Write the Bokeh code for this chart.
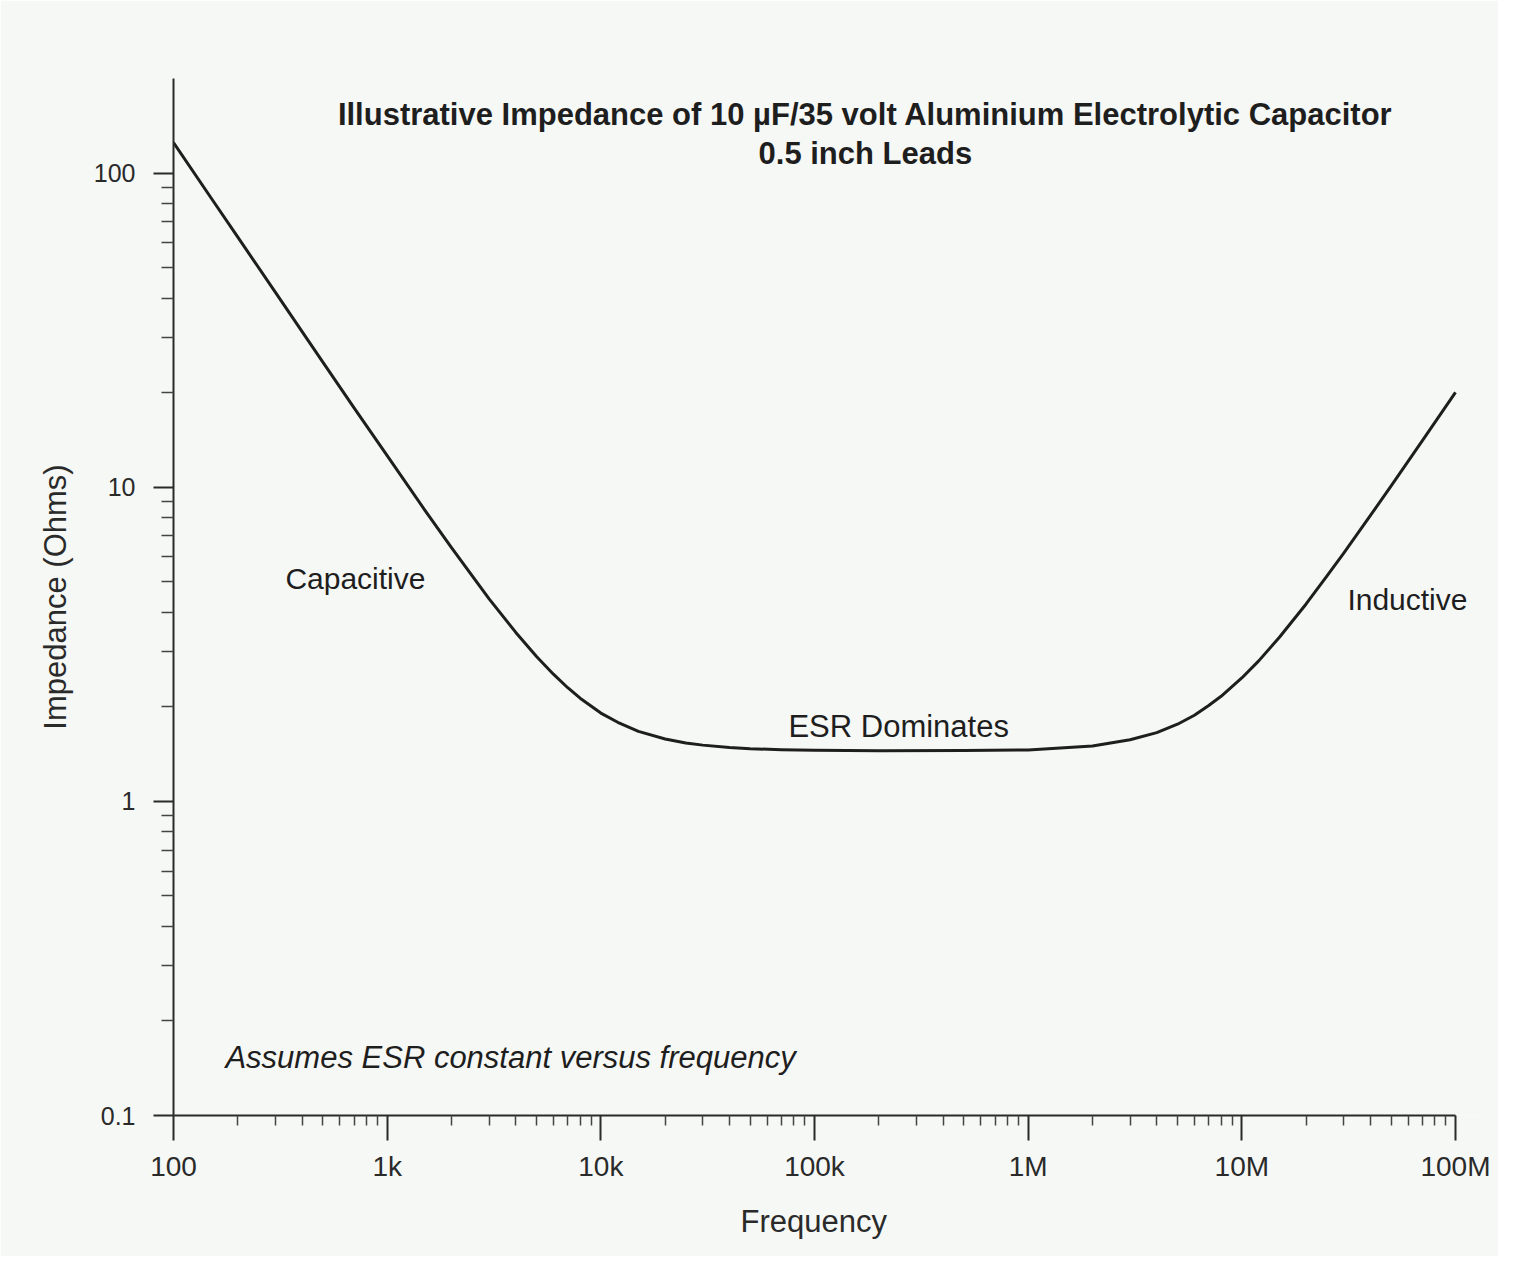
from bokeh.plotting import figure
from bokeh.models import Label, FixedTicker, Title
from bokeh.embed import file_html
from bokeh.resources import INLINE

# ---- data ----
freq = [100, 150, 200, 300, 500, 700,
        1e3, 1.5e3, 2e3, 3e3, 4e3, 5e3, 6e3, 7e3, 8e3,
        1e4, 1.2e4, 1.5e4, 2e4, 2.5e4, 3e4, 4e4, 5e4, 7e4,
        1e5, 2e5, 5e5,
        1e6, 2e6, 3e6, 4e6, 5e6, 6e6, 7e6, 8e6,
        1e7, 1.2e7, 1.5e7, 2e7, 2.5e7, 3e7, 4e7, 5e7, 7e7,
        1e8]
impedance = [125.0, 83.3, 62.5, 41.7, 25.0, 17.9,
             12.6, 8.46, 6.42, 4.41, 3.45, 2.89, 2.54, 2.30, 2.13,
             1.91, 1.785, 1.67, 1.58, 1.533, 1.51, 1.483, 1.47, 1.461,
             1.455, 1.45, 1.452,
             1.457, 1.50, 1.57, 1.655, 1.76, 1.88, 2.02, 2.16,
             2.47, 2.80, 3.33, 4.25, 5.21, 6.17, 8.13, 10.1, 14.07,
             20.05]

x_ticks = [1e2, 1e3, 1e4, 1e5, 1e6, 1e7, 1e8]
x_tick_labels = ["100", "1k", "10k", "100k", "1M", "10M", "100M"]
y_ticks = [0.1, 1, 10, 100]
y_tick_labels = ["0.1", "1", "10", "100"]

title_lines = ["Illustrative Impedance of 10 \u00b5F/35 volt Aluminium Electrolytic Capacitor",
               "0.5 inch Leads"]
x_title = "Frequency"
y_title = "Impedance (Ohms)"
annotations = ["Capacitive", "ESR Dominates", "Inductive"]
note = "Assumes ESR constant versus frequency"

FONT = "Liberation Sans"
BG = "#f6f8f5"
INK = "#1e1e1e"

# x range runs a little past 100M so the "Inductive" label is not clipped;
# the axis line itself is bounded to 100..100M
p = figure(width=1498, height=1256, x_axis_type="log", y_axis_type="log",
           x_range=(100, 1.382e8), y_range=(0.1, 200),
           output_backend="svg", toolbar_location=None,
           background_fill_color=BG, border_fill_color=BG,
           min_border_left=173, min_border_right=13,
           min_border_top=78, min_border_bottom=141)
p.outline_line_color = None
p.grid.visible = False

p.line(freq, impedance, line_color=INK, line_width=3, line_join="round")

# minor ticks: 2..9 within each decade
x_minor = [m * 10 ** e for e in range(2, 8) for m in range(2, 10)]
y_minor = [m * 10 ** e for e in range(-1, 3) for m in range(2, 10) if m * 10 ** e < 200]

p.xaxis.ticker = FixedTicker(ticks=x_ticks, minor_ticks=x_minor)
p.yaxis.ticker = FixedTicker(ticks=y_ticks, minor_ticks=y_minor)
p.xaxis.major_label_overrides = {t: l for t, l in zip(x_ticks, x_tick_labels)}
p.yaxis.major_label_overrides = {t: l for t, l in zip(y_ticks, y_tick_labels)}
p.xaxis.bounds = (x_ticks[0], x_ticks[-1])

for ax in (p.xaxis, p.yaxis):
    ax.axis_line_color = "#2a2a2a"
    ax.axis_line_width = 2
    ax.major_tick_line_color = "#2a2a2a"
    ax.major_tick_line_width = 2
    ax.minor_tick_line_color = "#444444"
    ax.minor_tick_line_width = 1.5
    ax.major_tick_in = 0
    ax.minor_tick_in = 0
    ax.major_label_text_font = FONT
    ax.major_label_text_color = "#2a2a2a"
    ax.axis_label_text_font = FONT
    ax.axis_label_text_font_style = "normal"
    ax.axis_label_text_color = "#2a2a2a"

p.xaxis.major_tick_out = 25
p.xaxis.minor_tick_out = 10
p.xaxis.major_label_standoff = 10
p.xaxis.major_label_text_font_size = "28px"

# x-axis title as a below-panel Title, left-aligned with an offset so that it
# sits centred under the 100..100M span (not under the wider frame)
p.add_layout(Title(text=x_title, align="left", offset=567, standoff=35,
                   text_font=FONT, text_font_size="31px", text_font_style="normal",
                   text_color="#2a2a2a"), "below")

p.yaxis.major_tick_out = 20
p.yaxis.minor_tick_out = 12
p.yaxis.major_label_standoff = 18
p.yaxis.major_label_text_font_size = "25px"
p.yaxis.axis_label = y_title
p.yaxis.axis_label_text_font_size = "31px"
p.yaxis.axis_label_standoff = 18

common = dict(text_font=FONT, text_color=INK, text_baseline="middle", level="overlay")

# title (two lines, bold)
p.add_layout(Label(x=1.73e5, y=154, text=title_lines[0], text_align="center",
                   text_font_size="31px", text_font_style="bold", **common))
p.add_layout(Label(x=1.73e5, y=115.8, text=title_lines[1], text_align="center",
                   text_font_size="31px", text_font_style="bold", **common))

# region annotations
p.add_layout(Label(x=334, y=5.12, text=annotations[0], text_font_size="30px", **common))
p.add_layout(Label(x=7.55e4, y=1.73, text=annotations[1], text_font_size="31px", **common))
p.add_layout(Label(x=3.12e7, y=4.38, text=annotations[2], text_font_size="30px", **common))
p.add_layout(Label(x=175, y=0.153, text=note, text_font_size="31px",
                   text_font_style="italic", **common))

open("out.html", "w").write(file_html(p, INLINE))
